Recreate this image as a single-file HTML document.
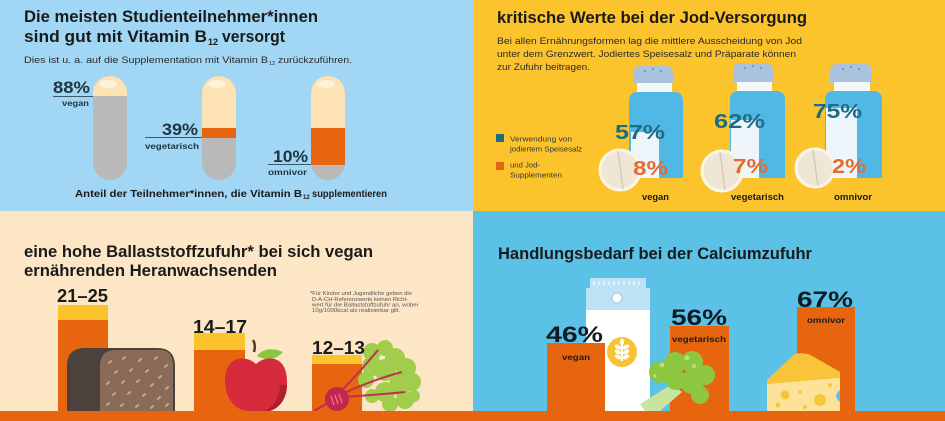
<!DOCTYPE html>
<html><head><meta charset="utf-8"><style>
html,body{margin:0;padding:0;width:945px;height:421px;overflow:hidden;background:#fff}
svg{display:block}
text{font-family:"Liberation Sans",sans-serif}
</style></head><body>
<svg width="945" height="421" viewBox="0 0 945 421" xmlns="http://www.w3.org/2000/svg">
<defs>
<clipPath id="c1"><rect x="93" y="76" width="34" height="104" rx="17"/></clipPath>
<clipPath id="c2"><rect x="202" y="76" width="34" height="104" rx="17"/></clipPath>
<clipPath id="c3"><rect x="311" y="76" width="34" height="104" rx="17"/></clipPath>
<clipPath id="bread"><path d="M67 411 L67 366 Q67 348 85 348 L157 348 Q175 348 175 366 L175 411 Z"/></clipPath>
</defs>
<!-- panels -->
<rect x="0" y="0" width="473" height="211" fill="#a1d7f4"/>
<rect x="473" y="0" width="472" height="211" fill="#fbc42d"/>
<rect x="0" y="211" width="473" height="210" fill="#fde6c5"/>
<rect x="473" y="211" width="472" height="210" fill="#5bc1e7"/>

<!-- ===== TOP LEFT: B12 ===== -->
<text x="24" y="22" font-size="17" font-weight="bold" fill="#1a1a1a" textLength="294" lengthAdjust="spacingAndGlyphs">Die meisten Studienteilnehmer*innen</text>
<text x="24" y="42" font-size="17" font-weight="bold" fill="#1a1a1a" textLength="183" lengthAdjust="spacingAndGlyphs">sind gut mit Vitamin B</text>
<text x="208" y="45" font-size="9" font-weight="bold" fill="#1a1a1a">12</text>
<text x="222" y="42" font-size="17" font-weight="bold" fill="#1a1a1a" textLength="63" lengthAdjust="spacingAndGlyphs">versorgt</text>
<text x="24" y="63" font-size="9.5" fill="#2a2a2a" textLength="244" lengthAdjust="spacingAndGlyphs">Dies ist u. a. auf die Supplementation mit Vitamin B</text>
<text x="269" y="65" font-size="5.5" fill="#2a2a2a">12</text>
<text x="278" y="63" font-size="9.5" fill="#2a2a2a" textLength="74" lengthAdjust="spacingAndGlyphs">zurückzuführen.</text>

<!-- capsule 1 -->
<g clip-path="url(#c1)">
<rect x="93" y="76" width="34" height="104" fill="#b9b9b9"/>
<rect x="93" y="76" width="34" height="20" fill="#fde3b4"/>
</g>
<ellipse cx="108" cy="84" rx="9" ry="4" fill="#fff" opacity="0.55"/>
<!-- capsule 2 -->
<g clip-path="url(#c2)">
<rect x="202" y="76" width="34" height="104" fill="#b9b9b9"/>
<rect x="202" y="76" width="34" height="52" fill="#fde3b4"/>
<rect x="202" y="128" width="34" height="10" fill="#e8650f"/>
</g>
<ellipse cx="217" cy="84" rx="9" ry="4" fill="#fff" opacity="0.55"/>
<!-- capsule 3 -->
<g clip-path="url(#c3)">
<rect x="311" y="76" width="34" height="104" fill="#b9b9b9"/>
<rect x="311" y="76" width="34" height="52" fill="#fde3b4"/>
<rect x="311" y="128" width="34" height="37" fill="#e8650f"/>
</g>
<ellipse cx="326" cy="84" rx="9" ry="4" fill="#fff" opacity="0.55"/>

<text x="53" y="93" font-size="17" font-weight="bold" fill="#1f3340" textLength="37" lengthAdjust="spacingAndGlyphs">88%</text>
<line x1="53" y1="96.5" x2="93" y2="96.5" stroke="#3b5868" stroke-width="1"/>
<text x="62" y="106" font-size="8.5" font-weight="bold" fill="#1f3340" textLength="27" lengthAdjust="spacingAndGlyphs">vegan</text>

<text x="162" y="135" font-size="17" font-weight="bold" fill="#1f3340" textLength="36" lengthAdjust="spacingAndGlyphs">39%</text>
<line x1="145" y1="137.5" x2="202" y2="137.5" stroke="#3b5868" stroke-width="1"/>
<text x="145" y="149" font-size="8.5" font-weight="bold" fill="#1f3340" textLength="54" lengthAdjust="spacingAndGlyphs">vegetarisch</text>

<text x="273" y="162" font-size="17" font-weight="bold" fill="#1f3340" textLength="35" lengthAdjust="spacingAndGlyphs">10%</text>
<line x1="268" y1="164.5" x2="311" y2="164.5" stroke="#3b5868" stroke-width="1"/>
<text x="268" y="175" font-size="8.5" font-weight="bold" fill="#1f3340" textLength="39" lengthAdjust="spacingAndGlyphs">omnivor</text>

<text x="75" y="197" font-size="10" font-weight="bold" fill="#1a1a1a" textLength="227" lengthAdjust="spacingAndGlyphs">Anteil der Teilnehmer*innen, die Vitamin B</text>
<text x="303" y="199" font-size="6" font-weight="bold" fill="#1a1a1a">12</text>
<text x="312" y="197" font-size="10" font-weight="bold" fill="#1a1a1a" textLength="75" lengthAdjust="spacingAndGlyphs">supplementieren</text>

<!-- ===== TOP RIGHT: Jod ===== -->
<text x="497" y="23" font-size="17" font-weight="bold" fill="#1a1a1a" textLength="310" lengthAdjust="spacingAndGlyphs">kritische Werte bei der Jod-Versorgung</text>
<text x="497" y="44" font-size="9.5" fill="#2a2a2a" textLength="305" lengthAdjust="spacingAndGlyphs">Bei allen Ernährungsformen lag die mittlere Ausscheidung von Jod</text>
<text x="497" y="57" font-size="9.5" fill="#2a2a2a" textLength="299" lengthAdjust="spacingAndGlyphs">unter dem Grenzwert. Jodiertes Speisesalz und Präparate können</text>
<text x="497" y="70" font-size="9.5" fill="#2a2a2a" textLength="93" lengthAdjust="spacingAndGlyphs">zur Zufuhr beitragen.</text>

<!-- legend -->
<rect x="496" y="134" width="8" height="8" fill="#1d6c86"/>
<text x="510" y="141.5" font-size="7" fill="#333" textLength="62" lengthAdjust="spacingAndGlyphs">Verwendung von</text>
<text x="510" y="151.5" font-size="7" fill="#333" textLength="72" lengthAdjust="spacingAndGlyphs">jodiertem Speisesalz</text>
<rect x="496" y="162" width="8" height="8" fill="#e8650f"/>
<text x="510" y="167.5" font-size="7" fill="#333" textLength="30" lengthAdjust="spacingAndGlyphs">und Jod-</text>
<text x="510" y="177.5" font-size="7" fill="#333" textLength="52" lengthAdjust="spacingAndGlyphs">Supplementen</text>

<!-- shaker 1 -->
<path d="M633 84 L633 74 Q633 66 641 66 L665 66 Q673 66 673 74 L673 84 Z" fill="#a9c3df"/>
<circle cx="645" cy="71" r="0.9" fill="#5d7890"/><circle cx="653" cy="69" r="0.9" fill="#5d7890"/><circle cx="661" cy="71" r="0.9" fill="#5d7890"/>
<rect x="637" y="83" width="35" height="10" fill="#f4f8fb"/>
<path d="M629 178 L629 101 Q629 92 638 92 L674 92 Q683 92 683 101 L683 178 Z" fill="#4fb8e4"/>
<rect x="631" y="132" width="28" height="46" fill="#eef6fb"/>
<circle cx="620" cy="170" r="20" fill="#efe6d6" stroke="#fbf5e8" stroke-width="3"/>
<line x1="618" y1="151" x2="623" y2="189" stroke="#d8ccb6" stroke-width="1.5"/>
<text x="615" y="139" font-size="20" font-weight="bold" fill="#1d6c86" textLength="50" lengthAdjust="spacingAndGlyphs">57%</text>
<text x="633" y="175" font-size="20" font-weight="bold" fill="#e46b2f" textLength="35" lengthAdjust="spacingAndGlyphs">8%</text>
<text x="642" y="200" font-size="9.5" font-weight="bold" fill="#1a1a1a" textLength="27" lengthAdjust="spacingAndGlyphs">vegan</text>

<!-- shaker 2 -->
<path d="M733 83 L733 71 Q733 63 741 63 L765 63 Q773 63 773 71 L773 83 Z" fill="#a9c3df"/>
<circle cx="745" cy="68" r="0.9" fill="#5d7890"/><circle cx="753" cy="66" r="0.9" fill="#5d7890"/><circle cx="761" cy="68" r="0.9" fill="#5d7890"/>
<rect x="737" y="82" width="35" height="10" fill="#f4f8fb"/>
<path d="M730 178 L730 100 Q730 91 739 91 L776 91 Q785 91 785 100 L785 178 Z" fill="#4fb8e4"/>
<rect x="731" y="120" width="28" height="58" fill="#eef6fb"/>
<circle cx="722" cy="171" r="20" fill="#efe6d6" stroke="#fbf5e8" stroke-width="3"/>
<line x1="720" y1="152" x2="725" y2="190" stroke="#d8ccb6" stroke-width="1.5"/>
<text x="714" y="128" font-size="20" font-weight="bold" fill="#1d6c86" textLength="51" lengthAdjust="spacingAndGlyphs">62%</text>
<text x="733" y="173" font-size="20" font-weight="bold" fill="#e46b2f" textLength="35" lengthAdjust="spacingAndGlyphs">7%</text>
<text x="731" y="200" font-size="9.5" font-weight="bold" fill="#1a1a1a" textLength="53" lengthAdjust="spacingAndGlyphs">vegetarisch</text>

<!-- shaker 3 -->
<path d="M830 83 L830 72 Q830 64 838 64 L864 64 Q872 64 872 72 L872 83 Z" fill="#a9c3df"/>
<circle cx="843" cy="69" r="0.9" fill="#5d7890"/><circle cx="851" cy="67" r="0.9" fill="#5d7890"/><circle cx="859" cy="69" r="0.9" fill="#5d7890"/>
<rect x="834" y="82" width="36" height="10" fill="#f4f8fb"/>
<path d="M825 178 L825 100 Q825 91 834 91 L873 91 Q882 91 882 100 L882 178 Z" fill="#4fb8e4"/>
<rect x="826" y="108" width="31" height="70" fill="#eef6fb"/>
<circle cx="815" cy="168" r="19" fill="#efe6d6" stroke="#fbf5e8" stroke-width="3"/>
<line x1="813" y1="150" x2="818" y2="186" stroke="#d8ccb6" stroke-width="1.5"/>
<text x="813" y="118" font-size="20" font-weight="bold" fill="#1d6c86" textLength="49" lengthAdjust="spacingAndGlyphs">75%</text>
<text x="832" y="173" font-size="20" font-weight="bold" fill="#e46b2f" textLength="34" lengthAdjust="spacingAndGlyphs">2%</text>
<text x="834" y="200" font-size="9.5" font-weight="bold" fill="#1a1a1a" textLength="38" lengthAdjust="spacingAndGlyphs">omnivor</text>

<!-- ===== BOTTOM LEFT: Ballaststoff ===== -->
<text x="24" y="257" font-size="17" font-weight="bold" fill="#1a1a1a" textLength="349" lengthAdjust="spacingAndGlyphs">eine hohe Ballaststoffzufuhr* bei sich vegan</text>
<text x="24" y="276" font-size="17" font-weight="bold" fill="#1a1a1a" textLength="253" lengthAdjust="spacingAndGlyphs">ernährenden Heranwachsenden</text>

<text x="310" y="295" font-size="5.6" fill="#555" textLength="102" lengthAdjust="spacingAndGlyphs">*Für Kinder und Jugendliche geben die</text>
<text x="312" y="301" font-size="5.6" fill="#555" textLength="96" lengthAdjust="spacingAndGlyphs">D-A-CH-Referenzwerte keinen Richt-</text>
<text x="312" y="306.5" font-size="5.6" fill="#555" textLength="106" lengthAdjust="spacingAndGlyphs">wert für die Ballaststoffzufuhr an, wobei</text>
<text x="312" y="312" font-size="5.6" fill="#555" textLength="88" lengthAdjust="spacingAndGlyphs">10g/1000kcal als realisierbar gilt.</text>

<rect x="58" y="305" width="50" height="16" fill="#fcc42c"/>
<rect x="58" y="320" width="50" height="91" fill="#e8650f"/>
<text x="57" y="302" font-size="18" font-weight="bold" fill="#1a1a1a" textLength="51" lengthAdjust="spacingAndGlyphs">21–25</text>

<rect x="194" y="333" width="51" height="18" fill="#fcc42c"/>
<rect x="194" y="350" width="51" height="61" fill="#e8650f"/>
<text x="193" y="333" font-size="18" font-weight="bold" fill="#1a1a1a" textLength="54" lengthAdjust="spacingAndGlyphs">14–17</text>

<rect x="312" y="355" width="50" height="10" fill="#fcc42c"/>
<rect x="312" y="364" width="50" height="47" fill="#e8650f"/>

<!-- bread -->
<g clip-path="url(#bread)">
<rect x="67" y="348" width="108" height="63" fill="#4c423d"/>
<path d="M100 411 L100 366 Q100 350 116 350 L160 350 Q173 350 173 366 L173 411 Z" fill="#8a6b58"/>
<g fill="#c6ad92">
<ellipse cx="110" cy="362" rx="2.5" ry="1" transform="rotate(-40 110 362)"/>
<ellipse cx="124" cy="358" rx="2.5" ry="1" transform="rotate(-40 124 358)"/>
<ellipse cx="140" cy="360" rx="2.5" ry="1" transform="rotate(-40 140 360)"/>
<ellipse cx="156" cy="358" rx="2.5" ry="1" transform="rotate(-40 156 358)"/>
<ellipse cx="166" cy="366" rx="2.5" ry="1" transform="rotate(-40 166 366)"/>
<ellipse cx="116" cy="372" rx="2.5" ry="1" transform="rotate(-40 116 372)"/>
<ellipse cx="131" cy="370" rx="2.5" ry="1" transform="rotate(-40 131 370)"/>
<ellipse cx="147" cy="371" rx="2.5" ry="1" transform="rotate(-40 147 371)"/>
<ellipse cx="160" cy="377" rx="2.5" ry="1" transform="rotate(-40 160 377)"/>
<ellipse cx="108" cy="383" rx="2.5" ry="1" transform="rotate(-40 108 383)"/>
<ellipse cx="123" cy="382" rx="2.5" ry="1" transform="rotate(-40 123 382)"/>
<ellipse cx="138" cy="381" rx="2.5" ry="1" transform="rotate(-40 138 381)"/>
<ellipse cx="152" cy="385" rx="2.5" ry="1" transform="rotate(-40 152 385)"/>
<ellipse cx="167" cy="388" rx="2.5" ry="1" transform="rotate(-40 167 388)"/>
<ellipse cx="114" cy="394" rx="2.5" ry="1" transform="rotate(-40 114 394)"/>
<ellipse cx="129" cy="393" rx="2.5" ry="1" transform="rotate(-40 129 393)"/>
<ellipse cx="144" cy="395" rx="2.5" ry="1" transform="rotate(-40 144 395)"/>
<ellipse cx="159" cy="398" rx="2.5" ry="1" transform="rotate(-40 159 398)"/>
<ellipse cx="108" cy="404" rx="2.5" ry="1" transform="rotate(-40 108 404)"/>
<ellipse cx="122" cy="405" rx="2.5" ry="1" transform="rotate(-40 122 405)"/>
<ellipse cx="137" cy="406" rx="2.5" ry="1" transform="rotate(-40 137 406)"/>
<ellipse cx="152" cy="407" rx="2.5" ry="1" transform="rotate(-40 152 407)"/>
<ellipse cx="167" cy="405" rx="2.5" ry="1" transform="rotate(-40 167 405)"/>
</g>
</g>

<!-- apple -->
<path d="M254 352 Q256 345 253 340" stroke="#5a3a22" stroke-width="2.5" fill="none"/>
<path d="M257 356 Q266 345 283 352 Q272 364 257 356 Z" fill="#8cc63f"/>
<path d="M256 364 C245 354 225 356 225 381 C225 401 239 412 249 411 L263 411 C276 412 288 399 287 381 C287 356 267 354 256 364 Z" fill="#d62b3a"/>
<path d="M280 385 C280 398 272 409 264 411 L270 411 C280 408 287 398 287 385 Z" fill="#b11e2d"/>

<!-- beet -->
<g fill="#a0cd4b">
<circle cx="372" cy="352" r="9"/><circle cx="385" cy="348" r="8"/><circle cx="395" cy="358" r="10"/>
<circle cx="406" cy="368" r="10"/><circle cx="412" cy="382" r="9"/><circle cx="400" cy="385" r="11"/>
<circle cx="385" cy="370" r="11"/><circle cx="372" cy="366" r="10"/><circle cx="366" cy="380" r="8"/>
<circle cx="385" cy="392" r="10"/><circle cx="405" cy="400" r="9"/><circle cx="390" cy="404" r="8"/>
<circle cx="372" cy="396" r="7"/><circle cx="414" cy="396" r="6"/>
</g>
<g stroke="#c0304e" stroke-width="2" fill="none">
<path d="M340 392 Q360 372 378 350"/>
<path d="M342 394 Q372 380 402 372"/>
<path d="M344 397 Q375 395 405 392"/>
</g>
<path d="M314 411 L326 404 Z" stroke="#c2274f" stroke-width="2"/>
<circle cx="337" cy="399" r="12" fill="#c2274f"/>
<g stroke="#e87a98" stroke-width="1.2">
<line x1="331" y1="396" x2="334" y2="405"/><line x1="335" y1="395" x2="338" y2="404"/><line x1="339" y1="394" x2="342" y2="403"/>
</g>
<text x="312" y="354" font-size="18" font-weight="bold" fill="#1a1a1a" textLength="53" lengthAdjust="spacingAndGlyphs">12–13</text>

<!-- ===== BOTTOM RIGHT: Calcium ===== -->
<text x="498" y="259" font-size="17" font-weight="bold" fill="#1a1a1a" textLength="314" lengthAdjust="spacingAndGlyphs">Handlungsbedarf bei der Calciumzufuhr</text>

<!-- milk carton -->
<rect x="590" y="278" width="56" height="12" fill="#bde2f6"/>
<g stroke="#ffffff" stroke-width="1">
<line x1="594" y1="281" x2="594" y2="285"/><line x1="599" y1="281" x2="599" y2="285"/><line x1="604" y1="281" x2="604" y2="285"/>
<line x1="609" y1="281" x2="609" y2="285"/><line x1="614" y1="281" x2="614" y2="285"/><line x1="619" y1="281" x2="619" y2="285"/>
<line x1="624" y1="281" x2="624" y2="285"/><line x1="629" y1="281" x2="629" y2="285"/><line x1="634" y1="281" x2="634" y2="285"/>
<line x1="639" y1="281" x2="639" y2="285"/>
</g>
<rect x="586" y="288" width="64" height="23" fill="#bde2f6"/>
<rect x="586" y="310" width="64" height="101" fill="#ffffff"/>
<circle cx="617" cy="298" r="5" fill="#ffffff" stroke="#9ccbe6" stroke-width="1"/>
<circle cx="622" cy="352" r="15" fill="#f7c335"/>
<g fill="#ffffff">
<rect x="621" y="343" width="2" height="18"/>
<ellipse cx="622" cy="342" rx="2" ry="3.5"/>
<ellipse cx="618" cy="347" rx="3.5" ry="2" transform="rotate(30 618 347)"/>
<ellipse cx="626" cy="347" rx="3.5" ry="2" transform="rotate(-30 626 347)"/>
<ellipse cx="618" cy="352" rx="3.5" ry="2" transform="rotate(30 618 352)"/>
<ellipse cx="626" cy="352" rx="3.5" ry="2" transform="rotate(-30 626 352)"/>
<ellipse cx="618" cy="357" rx="3.5" ry="2" transform="rotate(30 618 357)"/>
<ellipse cx="626" cy="357" rx="3.5" ry="2" transform="rotate(-30 626 357)"/>
</g>

<!-- vegan bar -->
<rect x="547" y="343" width="58" height="68" fill="#e8650f"/>
<text x="546" y="342" font-size="22" font-weight="bold" fill="#111a22" textLength="57" lengthAdjust="spacingAndGlyphs">46%</text>
<text x="562" y="360" font-size="8" font-weight="bold" fill="#1a1a1a" textLength="28" lengthAdjust="spacingAndGlyphs">vegan</text>

<!-- vegetarisch bar -->
<rect x="670" y="326" width="59" height="85" fill="#e8650f"/>
<text x="671" y="325" font-size="22" font-weight="bold" fill="#111a22" textLength="56" lengthAdjust="spacingAndGlyphs">56%</text>
<text x="672" y="342" font-size="8" font-weight="bold" fill="#1a1a1a" textLength="54" lengthAdjust="spacingAndGlyphs">vegetarisch</text>

<!-- broccoli -->
<path d="M645 411 L640 404 L672 384 L682 392 L660 411 Z" fill="#c8e4a0"/>
<g fill="#8dc63f">
<circle cx="660" cy="372" r="11"/><circle cx="675" cy="363" r="11"/><circle cx="692" cy="362" r="11"/>
<circle cx="705" cy="375" r="10"/><circle cx="692" cy="382" r="12"/><circle cx="676" cy="380" r="10"/>
<circle cx="700" cy="395" r="9"/>
</g>
<g fill="#b9de84">
<circle cx="662" cy="365" r="2.5"/><circle cx="687" cy="358" r="2.5"/><circle cx="694" cy="366" r="2"/><circle cx="655" cy="376" r="1.8"/>
</g>

<!-- omnivor bar -->
<rect x="797" y="307" width="58" height="104" fill="#e8650f"/>
<text x="797" y="307" font-size="22" font-weight="bold" fill="#111a22" textLength="56" lengthAdjust="spacingAndGlyphs">67%</text>
<text x="807" y="323" font-size="8" font-weight="bold" fill="#1a1a1a" textLength="38" lengthAdjust="spacingAndGlyphs">omnivor</text>

<!-- cheese -->
<path d="M767 380 L795 354 Q805 352 812 356 L840 372 L840 411 L767 411 Z" fill="#fde39a"/>
<path d="M767 380 L795 354 Q805 352 812 356 L840 372 L840 378 L767 384 Z" fill="#f8c43a"/>
<path d="M840 390 Q832 396 840 402 Z" fill="#5bc1e7"/>
<g fill="#f8c43a">
<circle cx="785" cy="395" r="4.5"/><circle cx="800" cy="392" r="1.8"/><circle cx="820" cy="400" r="6"/>
<circle cx="830" cy="385" r="2"/><circle cx="778" cy="405" r="2.5"/><circle cx="805" cy="407" r="2"/>
</g>

<!-- ground strip -->
<rect x="0" y="411" width="945" height="10" fill="#e8650f"/>
</svg>
</body></html>
